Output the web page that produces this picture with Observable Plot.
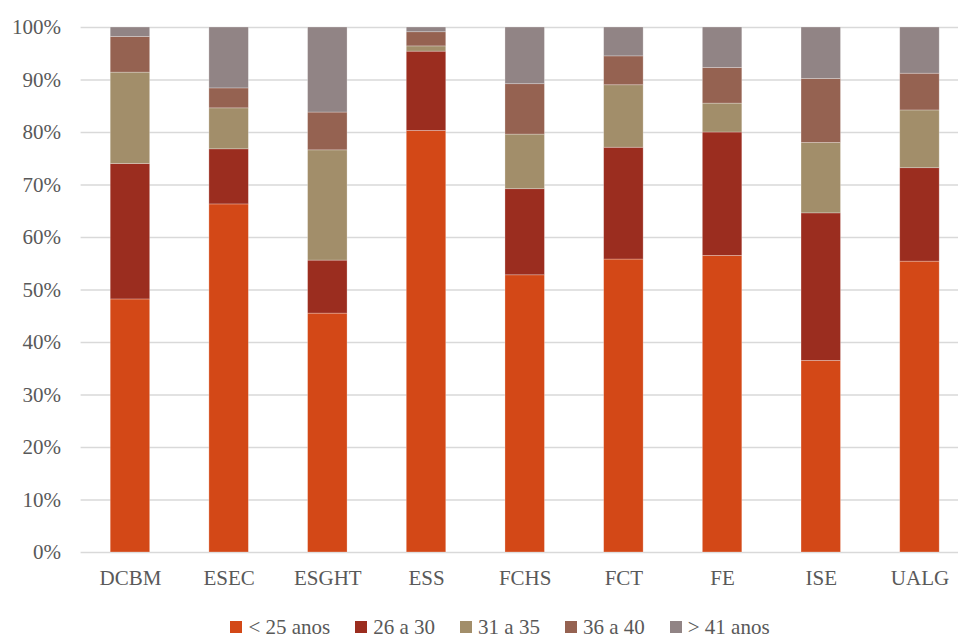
<!DOCTYPE html>
<html>
<head>
<meta charset="utf-8">
<script src="https://cdn.jsdelivr.net/npm/d3@7"></script>
<script src="https://cdn.jsdelivr.net/npm/@observablehq/plot@0.6"></script>
<style>
  html, body { margin: 0; padding: 0; background: #fff; overflow: hidden; }
  #chart { width: 958px; }
  #chart svg { font-family: "Liberation Serif", "Times New Roman", serif; overflow: hidden; }
  .legend {
    box-sizing: border-box; width: 958px; padding-left: 42px;
    display: flex; justify-content: center; align-items: center; gap: 25px;
    font-family: "Liberation Serif", "Times New Roman", serif; font-size: 21px; color: #595959;
    height: 22px; margin-top: 16px;
  }
  .legend span.item { display: flex; align-items: center; gap: 6px; }
  .legend i { display: inline-block; width: 12px; height: 12px; }
</style>
</head>
<body>
<div id="chart"></div>
<script>
// Unidades orgânicas
const units = ["DCBM", "ESEC", "ESGHT", "ESS", "FCHS", "FCT", "FE", "ISE", "UALG"];
// Escalões etários
const groups = ["< 25 anos", "26 a 30", "31 a 35", "36 a 40", "> 41 anos"];
const colors = ["#D34817", "#9B2D1F", "#A28E6A", "#956251", "#918485"];

// Percentagem por escalão, uma lista por escalão (ordem de units)
const under25 = [48.2, 66.3, 45.5, 80.3, 52.8, 55.8, 56.5, 36.5, 55.4];
const age26to30 = [25.8, 10.5, 10.1, 15.1, 16.4, 21.3, 23.5, 28.1, 17.8];
const age31to35 = [17.4, 7.8, 21.0, 1.0, 10.4, 11.9, 5.5, 13.4, 11.0];
const age36to40 = [6.8, 3.8, 7.2, 2.7, 9.6, 5.5, 6.8, 12.2, 7.0];
const over41 = [1.8, 11.6, 16.2, 0.9, 10.8, 5.5, 7.7, 9.8, 8.8];

const yTicks = [0, 10, 20, 30, 40, 50, 60, 70, 80, 90, 100];

const series = [under25, age26to30, age31to35, age36to40, over41];
const rows = [];
series.forEach((vals, gi) => {
  vals.forEach((v, ui) => rows.push({unit: units[ui], group: groups[gi], value: v}));
});

const chart = Plot.plot({
  width: 958,
  height: 600,
  marginTop: 27,
  marginBottom: 48,
  marginLeft: 80.6,
  marginRight: -10.8,
  x: {domain: units, paddingInner: 0.6, paddingOuter: 0.3, round: false, label: null},
  y: {domain: [0, 100], label: null},
  color: {domain: groups, range: colors},
  marks: [
    Plot.ruleY(yTicks, {stroke: "#d9d9d9", strokeWidth: 1.5}),
    Plot.barY(rows, Plot.stackY({
      x: "unit", y: "value", fill: "group", order: groups,
      stroke: "#ffffff", strokeOpacity: 0.35, strokeWidth: 0.75
    })),
    Plot.axisY({ticks: yTicks, tickSize: 0, tickPadding: 20, tickFormat: d => d + "%", fill: "#595959", fontSize: 21}),
    Plot.axisX({tickSize: 0, tickPadding: 18, fill: "#595959", fontSize: 21})
  ]
});
document.getElementById("chart").append(chart);

// Legenda
const legend = document.createElement("div");
legend.className = "legend";
groups.forEach((g, i) => {
  const item = document.createElement("span");
  item.className = "item";
  const sw = document.createElement("i");
  sw.style.background = colors[i];
  item.append(sw, document.createTextNode(g));
  legend.append(item);
});
document.body.append(legend);
</script>
</body>
</html>
